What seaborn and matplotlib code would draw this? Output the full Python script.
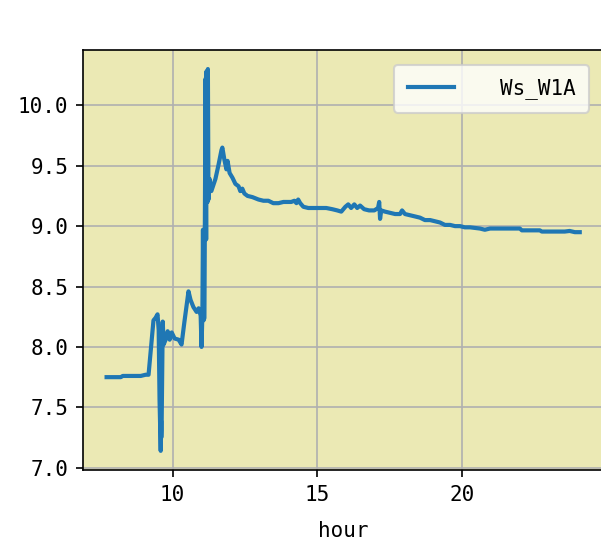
import numpy as np
import pandas as pd
import matplotlib
matplotlib.use("Agg")
import matplotlib.pyplot as plt
import seaborn as sns

# data
hour = [7.72, 8.21, 8.28, 8.90, 9.07, 9.17, 9.34, 9.41, 9.48, 9.52,
        9.55, 9.59, 9.60, 9.61, 9.62, 9.66, 9.69, 9.76, 9.83, 9.90,
        9.97, 10.07, 10.21, 10.31, 10.41, 10.55, 10.62, 10.72, 10.83, 10.90,
        10.97, 11.00, 11.03, 11.05, 11.07, 11.10, 11.14, 11.16, 11.17, 11.21,
        11.22, 11.24, 11.28, 11.34, 11.41, 11.48, 11.59, 11.69, 11.72, 11.79,
        11.86, 11.90, 11.97, 12.07, 12.17, 12.28, 12.34, 12.41, 12.48, 12.59,
        12.76, 12.97, 13.14, 13.31, 13.48, 13.66, 13.83, 14.00, 14.10, 14.21,
        14.28, 14.34, 14.41, 14.52, 14.69, 14.90, 15.10, 15.31, 15.52, 15.69,
        15.83, 15.97, 16.07, 16.17, 16.28, 16.38, 16.48, 16.62, 16.79, 16.97,
        17.10, 17.14, 17.17, 17.21, 17.34, 17.52, 17.69, 17.86, 17.93, 18.03,
        18.21, 18.38, 18.55, 18.72, 18.90, 19.07, 19.24, 19.41, 19.59, 19.76,
        19.93, 20.10, 20.28, 20.62, 20.79, 20.97, 21.31, 21.66, 22.00, 22.07,
        22.34, 22.69, 22.76, 23.21, 23.55, 23.72, 23.90, 24.07]
ws_w1a = [7.75, 7.75, 7.76, 7.76, 7.77, 7.77, 8.22, 8.24, 8.27, 8.14,
          7.56, 7.14, 7.39, 7.25, 7.31, 8.21, 8.02, 8.06, 8.13, 8.06,
          8.12, 8.07, 8.06, 8.02, 8.21, 8.46, 8.39, 8.33, 8.29, 8.32,
          8.26, 8.00, 8.27, 8.97, 8.22, 8.24, 10.22, 8.89, 10.28, 9.20,
          10.30, 9.22, 9.39, 9.29, 9.34, 9.39, 9.51, 9.63, 9.65, 9.55,
          9.47, 9.54, 9.44, 9.40, 9.35, 9.33, 9.29, 9.31, 9.27, 9.25,
          9.24, 9.22, 9.21, 9.21, 9.19, 9.19, 9.20, 9.20, 9.20, 9.21,
          9.19, 9.22, 9.19, 9.16, 9.15, 9.15, 9.15, 9.15, 9.14, 9.13,
          9.12, 9.16, 9.18, 9.15, 9.18, 9.15, 9.17, 9.14, 9.13, 9.13,
          9.15, 9.20, 9.06, 9.13, 9.12, 9.11, 9.10, 9.10, 9.13, 9.10,
          9.09, 9.08, 9.07, 9.05, 9.05, 9.04, 9.03, 9.01, 9.01, 9.00,
          9.00, 8.99, 8.99, 8.98, 8.97, 8.98, 8.98, 8.98, 8.98, 8.965,
          8.965, 8.965, 8.955, 8.955, 8.955, 8.96, 8.95, 8.95]

df = pd.DataFrame({'hour': hour, 'Ws_W1A': ws_w1a})

plt.rcParams['font.family'] = ['DejaVu Sans Mono', 'DejaVu Sans']

fig = plt.figure(figsize=(601 / 150, 549 / 150), dpi=150)
ax = fig.add_axes([0.138, 0.144, 0.866, 0.765])
ax.set_facecolor('#ebe9b4')

sns.lineplot(data=df, x='hour', y='Ws_W1A', ax=ax, label='Ws_W1A',
             estimator=None, sort=False, color='#1f77b4', linewidth=2.0)

ax.set_xticks([10, 15, 20])
ax.set_yticks([7.0, 7.5, 8.0, 8.5, 9.0, 9.5, 10.0])
ax.set_xlabel('hour', labelpad=8)
ax.set_ylabel('')
ax.grid(True, color='#b0b0b0', linewidth=0.8)
ax.set_axisbelow(True)
ax.legend(loc='upper right', handletextpad=2.2, handlelength=2.2,
          borderpad=0.65, borderaxespad=0.7)

plt.savefig('out.png', dpi=150)
